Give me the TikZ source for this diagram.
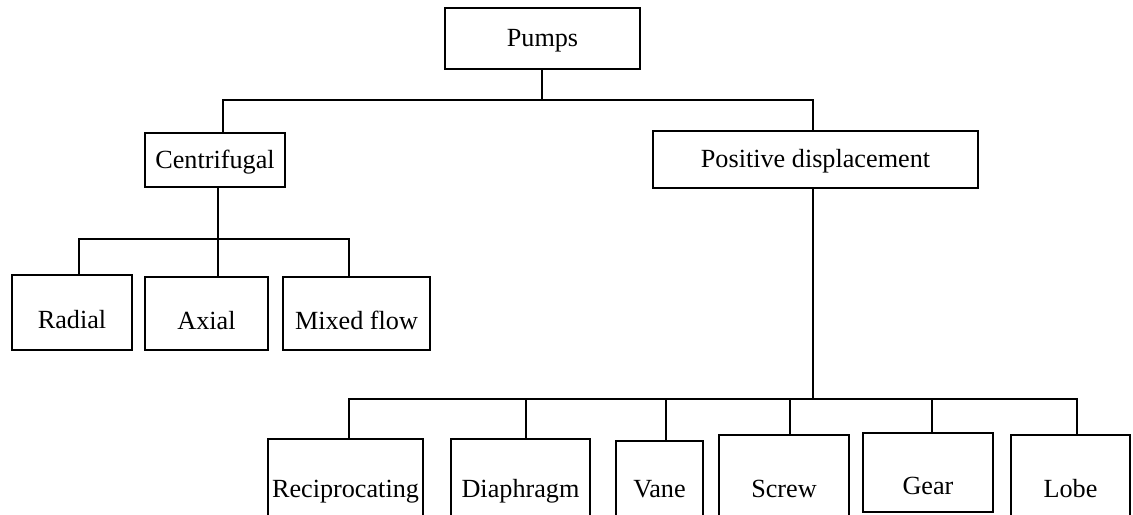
\documentclass[tikz,border=0pt]{standalone}
\usepackage{fontspec}
\setmainfont{Liberation Serif}
\begin{document}
\begin{tikzpicture}[x=0.5pt,y=-0.5pt,
	box/.style={draw,rectangle,line width=1.1pt,inner sep=0pt,
		text height=1em,text depth=0.2em,font=\fontsize{13.1}{15}\selectfont},
	lowtext/.style={text height=1.78em},
	conn/.style={line width=0.9pt}]
			\useasboundingbox (0,0) rectangle (1133,514);
			\clip (0,0) rectangle (1133,514);
			
			% Top level
			\node[box,minimum width=97.5pt,minimum height=30.5pt] (pumps) at (542.5,38.5) {Pumps};
			\node[box,minimum width=70pt,minimum height=27pt] (centri) at (215,160) {Centrifugal};
			\node[box,minimum width=162.5pt,minimum height=28.5pt] (posdisp) at (815.5,159.5) {Positive displacement};
			
			% Centrifugal types
			\node[box,lowtext,minimum width=60pt,minimum height=37.5pt] (radial) at (72,312.5) {Radial};
			\node[box,lowtext,minimum width=61.5pt,minimum height=36.5pt] (axial) at (206.5,313.5) {Axial};
			\node[box,lowtext,minimum width=73.5pt,minimum height=36.5pt] (mixed) at (356.5,313.5) {Mixed flow};
			
			% Positive displacement types (run off the bottom edge)
			\node[box,minimum width=77.5pt,minimum height=50.5pt] (recip) at (345.5,489.5) {Reciprocating};
			\node[box,minimum width=69.5pt,minimum height=50.5pt] (diaph) at (520.5,489.5) {Diaphragm};
			\node[box,minimum width=43.5pt,minimum height=48.5pt] (vane) at (659.5,489.5) {Vane};
			\node[box,minimum width=65pt,minimum height=54.5pt] (screw) at (784,489.5) {Screw};
			\node[box,text height=2.38em,minimum width=65pt,minimum height=39.5pt] (gear) at (928,472.5) {Gear};
			\node[box,minimum width=59.5pt,minimum height=54.5pt] (lobe) at (1070.5,489.5) {Lobe};
			
			% Branches from Pumps
			\coordinate (pbus) at (542,100);
			\draw[conn] ([xshift=-0.25pt]pumps.south) -- (pbus);
			\draw[conn] ([xshift=4pt]centri.north) |- (pbus) -| ([xshift=-1.25pt]posdisp.north);
			
			% Branches from Centrifugal
			\coordinate (cbus) at (218,239);
			\draw[conn] ([xshift=1.5pt]centri.south) -- (cbus);
			\draw[conn] ([xshift=3.5pt]radial.north) |- (cbus) -| ([xshift=-3.75pt]mixed.north);
			\draw[conn] (cbus) -- ([xshift=5.75pt]axial.north);
			
			% Branches from Positive displacement
			\coordinate (dbus) at (813,399);
			\draw[conn] ([xshift=-1.25pt]posdisp.south) -- (dbus);
			\draw[conn] ([xshift=1.75pt]recip.north) |- (dbus) -| ([xshift=3.25pt]lobe.north);
			\foreach \n/\dx in {diaph/2.75pt,vane/3.25pt,screw/3pt,gear/2pt} {
				\coordinate (drop) at ([xshift=\dx]\n.north);
				\draw[conn] (drop) -- (drop |- dbus);
			}
			\end{tikzpicture}
\end{document}
